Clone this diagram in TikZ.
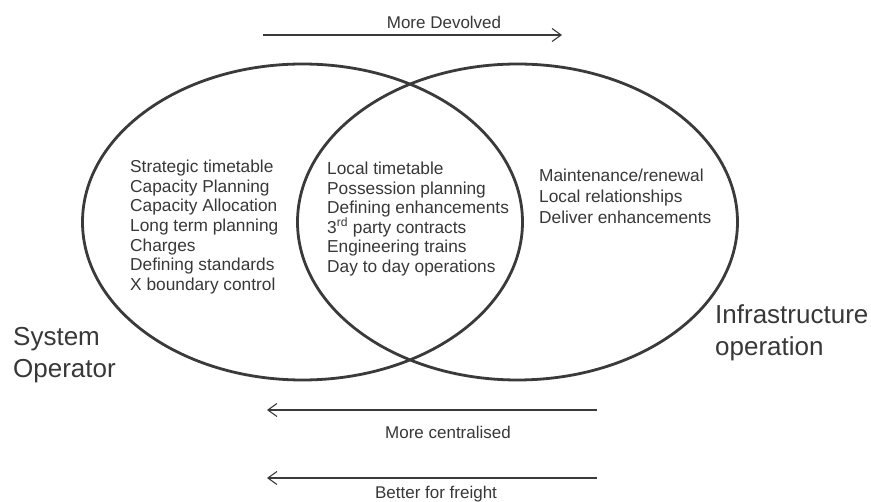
\documentclass[tikz,border=0pt]{standalone}
\usepackage{fontspec}
\setmainfont{Liberation Sans}
\usetikzlibrary{shapes.geometric,arrows.meta}
\definecolor{ink}{HTML}{3A3A3A}
\definecolor{txt}{HTML}{383838}
\tikzset{
  venn/.style={draw=ink, line width=2.8pt, ellipse, minimum width=440pt, minimum height=316pt, inner sep=0pt},
  itemlist/.style={align=left, inner sep=0pt, text=txt, font=\fontsize{17.3}{19.6}\selectfont, anchor=west},
  biglabel/.style={align=left, inner sep=0pt, text=txt, font=\fontsize{26}{32}\selectfont, anchor=west},
  arrlabel/.style={inner sep=0pt, text=txt, font=\fontsize{17}{20}\selectfont},
  dirarrow/.style={draw=ink, line width=1.1pt, -{Straight Barb[length=9pt,width=13pt,line width=1.1pt]}}
}
\begin{document}
\begin{tikzpicture}[x=1pt,y=-1pt]
\useasboundingbox[fill=white] (0,0) rectangle (871,502);
% Venn ellipses
\node[venn] (so) at (302.5,222) {};
\node[venn] (io) at (517.5,222) {};
% Item lists
\node[itemlist] (left) at (130,227) {Strategic timetable\\Capacity Planning\\Capacity Allocation\\Long term planning\\Charges\\Defining standards\\X boundary control};
\node[itemlist] (mid) at (327,219) {Local timetable\\Possession planning\\Defining enhancements\\3\textsuperscript{rd} party contracts\\Engineering trains\\Day to day operations};
\node[itemlist, font=\fontsize{17.3}{21}\selectfont] (right) at (539,196) {Maintenance/renewal\\Local relationships\\Deliver enhancements};
% Big labels
\node[biglabel] (solab) at (13,355) {System\\Operator};
\node[biglabel] (iolab) at (715,333) {Infrastructure\\operation};
% Direction arrows
\coordinate (d1) at (263,35); \coordinate (d2) at (562,35);
\draw[dirarrow] (d1) -- (d2);
\node[arrlabel] (devolved) at (444,22) {More Devolved};
\coordinate (c1) at (597,410); \coordinate (c2) at (267,410);
\draw[dirarrow] (c1) -- (c2);
\node[arrlabel] (central) at (448,432) {More centralised};
\coordinate (f1) at (597,478); \coordinate (f2) at (267,478);
\draw[dirarrow] (f1) -- (f2);
\node[arrlabel] (freight) at (436,494) {Better for freight};
\end{tikzpicture}
\end{document}
